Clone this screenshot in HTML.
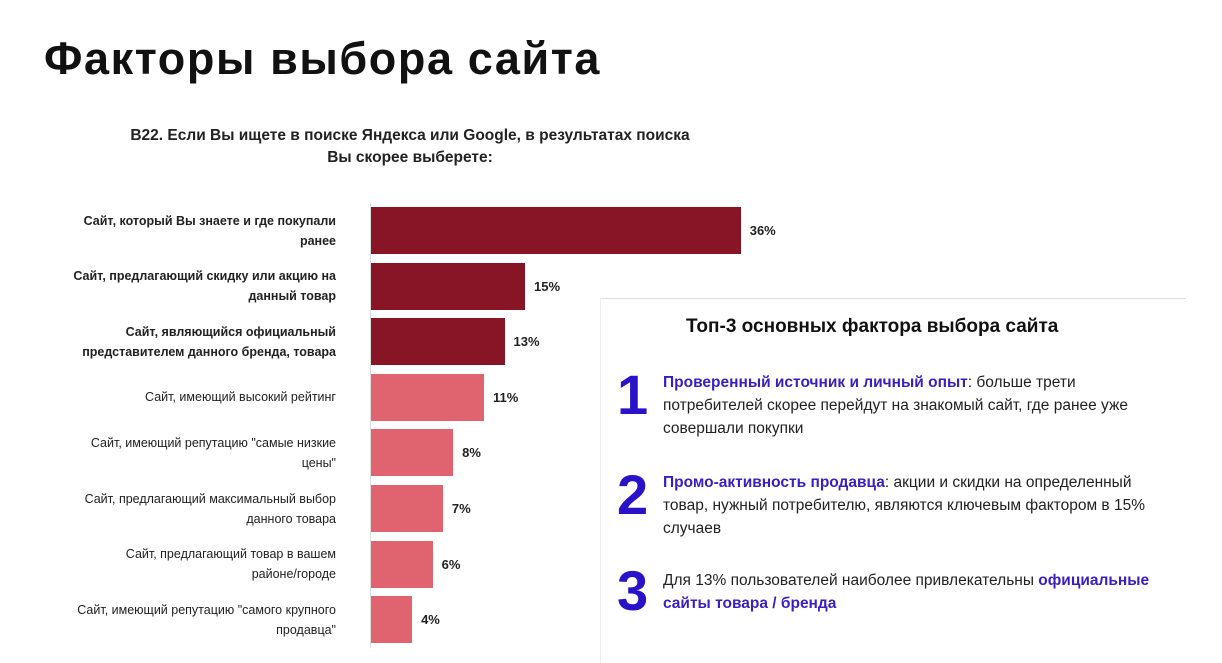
<!DOCTYPE html>
<html><head><meta charset="utf-8"><style>
body{margin:0;width:1222px;height:662px;background:#fff;font-family:"Liberation Sans","DejaVu Sans",sans-serif;overflow:hidden;position:relative;color:#1a1a1a}
#title{position:absolute;left:44px;top:33px;font-size:45px;font-weight:bold;letter-spacing:1.6px;color:#111}
#q{position:absolute;left:80px;top:125px;width:660px;text-align:center;font-size:15.5px;font-weight:bold;line-height:22px;color:#222}
.lab{position:absolute;left:66px;width:270px;display:flex;align-items:center;justify-content:flex-end;text-align:right;font-size:12.5px;line-height:20px;color:#222}
.val{position:absolute;font-size:13px;font-weight:bold;color:#222}
.bar{position:absolute}
#panel{position:absolute;left:600px;top:298px;width:585px;height:364px;border-top:1px solid #ddd;border-left:1px solid #eee;background:#fff}
#ptitle{position:absolute;left:85px;top:17px;font-size:19px;font-weight:bold;color:#111}
.num{position:absolute;left:16px;font-size:56px;font-weight:bold;color:#2a12c8;line-height:56px}
.txt{position:absolute;left:62px;width:515px;font-size:15.5px;line-height:23px;color:#222}
.hl{color:#3a1fc0;font-weight:bold}
</style></head><body>
<div id="title">Факторы выбора сайта</div>
<div id="q">B22. Если Вы ищете в поиске Яндекса или Google, в результатах поиска<br>Вы скорее выберете:</div>
<div id="axis" style="position:absolute;left:370px;top:203px;width:1px;height:445px;background:#ddd"></div>
<div id="chart"></div>
<div id="panel">
<div id="ptitle">Топ-3 основных фактора выбора сайта</div>
<div class="num" style="top:68px">1</div>
<div class="txt" style="top:72px"><span class="hl">Проверенный источник и личный опыт</span>: больше трети потребителей скорее перейдут на знакомый сайт, где ранее уже совершали покупки</div>
<div class="num" style="top:168px">2</div>
<div class="txt" style="top:172px"><span class="hl">Промо-активность продавца</span>: акции и скидки на определенный товар, нужный потребителю, являются ключевым фактором в 15% случаев</div>
<div class="num" style="top:264px">3</div>
<div class="txt" style="top:270px">Для 13% пользователей наиболее привлекательны <span class="hl">официальные сайты товара / бренда</span></div>
</div>
<script>
const categories=["Сайт, который Вы знаете и где покупали ранее","Сайт, предлагающий скидку или акцию на данный товар","Сайт, являющийся официальный представителем данного бренда, товара","Сайт, имеющий высокий рейтинг","Сайт, имеющий репутацию \"самые низкие цены\"","Сайт, предлагающий максимальный выбор данного товара","Сайт, предлагающий товар в вашем районе/\u2060городе","Сайт, имеющий репутацию \"самого крупного продавца\""];
const values=[36,15,13,11,8,7,6,4];
const labels=["36%","15%","13%","11%","8%","7%","6%","4%"];
const x0=371,scale=10.27,y0=207,pitch=55.6,bh=47;
const xs=v=>v*scale, ys=i=>y0+i*pitch;
const c=document.getElementById('chart');
values.forEach((v,i)=>{
 const b=document.createElement('div');b.className='bar';
 
 
 b.style.cssText=`left:${x0}px;top:${ys(i)}px;width:${xs(v)}px;height:${bh}px;background:${i<3?'#871525':'#df6470'}`;
 c.appendChild(b);
 const t=document.createElement('div');t.className='val';t.textContent=labels[i];
 
 
 t.style.left=(x0+xs(v)+9)+'px';t.style.top=(ys(i)+16)+'px';
 c.appendChild(t);
 const l=document.createElement('div');l.className='lab';
 const s=document.createElement('span');s.textContent=categories[i];l.appendChild(s);
 
 
 l.style.top=ys(i)+'px';l.style.height=bh+'px';
 if(i<3)l.style.fontWeight='bold';
 c.appendChild(l);
});
</script>
</body></html>
